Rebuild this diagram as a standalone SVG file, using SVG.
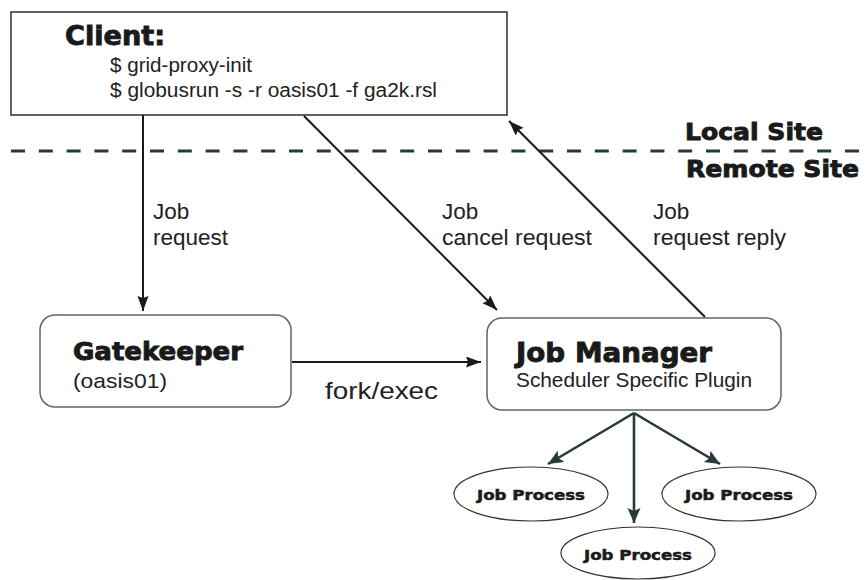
<svg xmlns="http://www.w3.org/2000/svg" width="865" height="580" viewBox="0 0 865 580">
<style>
.box{fill:#fff;stroke:#222;stroke-width:1.4}
.rbox{fill:#fff;stroke:#5b6868;stroke-width:1.5}
.ell{fill:#fff;stroke:#333;stroke-width:1.2}
.h{font-family:"DejaVu Sans",sans-serif;font-weight:bold;fill:#1a1a1a;stroke:#1a1a1a;stroke-width:0.9}
.t{font-family:"Liberation Sans",Arial,sans-serif;fill:#222}
.jp{font-family:"DejaVu Sans",sans-serif;font-weight:bold;font-size:14px;fill:#1a1a1a;stroke:#1a1a1a;stroke-width:0.5;text-anchor:middle}
.blk{stroke:#1a1a1a;stroke-width:2;fill:none}
.drk{stroke:#263a3c;stroke-width:2.6;fill:none}
</style>
<defs>
<marker id="ab" markerUnits="userSpaceOnUse" markerWidth="16" markerHeight="12" refX="15" refY="5.5" orient="auto">
<path d="M0,0 L15,5.5 L0,11 L2,5.5 z" fill="#1a1a1a"/>
</marker>
<marker id="ad" markerUnits="userSpaceOnUse" markerWidth="16" markerHeight="14" refX="15" refY="6.5" orient="auto">
<path d="M0,0 L15,6.5 L0,13 L3,6.5 z" fill="#263a3c"/>
</marker>
</defs>

<line x1="11" y1="151" x2="865" y2="151" stroke="#263a3c" stroke-width="3.2" stroke-dasharray="14 13.8"/>
<text class="h" x="685" y="140" font-size="23" textLength="138" lengthAdjust="spacingAndGlyphs">Local Site</text>
<text class="h" x="686" y="177" font-size="23" textLength="173" lengthAdjust="spacingAndGlyphs">Remote Site</text>

<g id="client">
<rect class="box" x="11" y="12" width="496" height="103"/>
<text class="h" x="65" y="45" font-size="27" textLength="100" lengthAdjust="spacingAndGlyphs">Client:</text>
<text class="t" x="110" y="72" font-size="19.5" textLength="142" lengthAdjust="spacingAndGlyphs">$ grid-proxy-init</text>
<text class="t" x="110" y="97" font-size="19.5" textLength="327" lengthAdjust="spacingAndGlyphs">$ globusrun -s -r oasis01 -f ga2k.rsl</text>
</g>

<g id="gatekeeper">
<rect class="rbox" x="40" y="315" width="251" height="92" rx="15"/>
<text class="h" x="73" y="360" font-size="24" textLength="170" lengthAdjust="spacingAndGlyphs">Gatekeeper</text>
<text class="t" x="73" y="388" font-size="21" textLength="94" lengthAdjust="spacingAndGlyphs">(oasis01)</text>
</g>

<g id="jobmanager">
<rect class="rbox" x="487" y="318" width="294" height="92" rx="15"/>
<text class="h" x="516" y="362" font-size="27" textLength="196" lengthAdjust="spacingAndGlyphs">Job Manager</text>
<text class="t" x="516" y="387" font-size="20" textLength="236" lengthAdjust="spacingAndGlyphs">Scheduler Specific Plugin</text>
</g>

<g id="jp1">
<ellipse class="ell" cx="531" cy="494" rx="77" ry="27"/>
<text class="jp" x="531" y="500" textLength="108" lengthAdjust="spacingAndGlyphs">Job Process</text>
</g>
<g id="jp2">
<ellipse class="ell" cx="739" cy="494" rx="77" ry="27"/>
<text class="jp" x="739" y="500" textLength="108" lengthAdjust="spacingAndGlyphs">Job Process</text>
</g>
<g id="jp3">
<ellipse class="ell" cx="638" cy="553" rx="77" ry="26"/>
<text class="jp" x="638" y="560" textLength="108" lengthAdjust="spacingAndGlyphs">Job Process</text>
</g>

<g id="connectors">
<line class="blk" x1="143" y1="115" x2="143" y2="311" marker-end="url(#ab)"/>
<line class="blk" x1="304" y1="116" x2="497" y2="310" marker-end="url(#ab)"/>
<line class="blk" x1="705" y1="317" x2="509" y2="121" marker-end="url(#ab)"/>
<line class="blk" x1="292" y1="362" x2="481" y2="362" marker-end="url(#ab)"/>
<line class="drk" x1="634" y1="413" x2="548" y2="464" marker-end="url(#ad)"/>
<line class="drk" x1="634" y1="413" x2="634" y2="523" marker-end="url(#ad)"/>
<line class="drk" x1="634" y1="413" x2="720" y2="464" marker-end="url(#ad)"/>
<text class="t" x="153" y="219" font-size="22.5">Job</text>
<text class="t" x="153" y="245" font-size="22.5">request</text>
<text class="t" x="442" y="219" font-size="22.5">Job</text>
<text class="t" x="442" y="245" font-size="22.5" textLength="150" lengthAdjust="spacingAndGlyphs">cancel request</text>
<text class="t" x="653" y="219" font-size="22.5">Job</text>
<text class="t" x="653" y="245" font-size="22.5" textLength="133" lengthAdjust="spacingAndGlyphs">request reply</text>
<text class="t" x="325" y="399" font-size="24" textLength="113" lengthAdjust="spacingAndGlyphs">fork/exec</text>
</g>
</svg>
